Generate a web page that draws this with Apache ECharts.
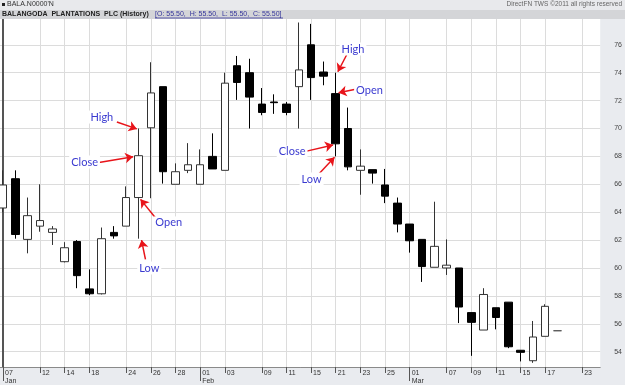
<!DOCTYPE html>
<html><head><meta charset="utf-8">
<script src="https://cdn.jsdelivr.net/npm/echarts@6/dist/echarts.min.js"></script>
<style>html,body{margin:0;padding:0;background:#e9ebef;}#c{width:625px;height:385px;}</style>
</head><body><div id="c"></div>
<script>
// Trading days (index = category position); last two are future days with no data
const dates = ['07 Jan','10 Jan','11 Jan','12 Jan','13 Jan','14 Jan','17 Jan','18 Jan','20 Jan','21 Jan',
  '24 Jan','25 Jan','26 Jan','27 Jan','28 Jan','31 Jan','01 Feb','02 Feb','03 Feb','07 Feb',
  '08 Feb','09 Feb','10 Feb','11 Feb','14 Feb','15 Feb','16 Feb','21 Feb','22 Feb','23 Feb',
  '24 Feb','25 Feb','28 Feb','01 Mar','02 Mar','04 Mar','07 Mar','08 Mar','09 Mar','10 Mar',
  '11 Mar','14 Mar','15 Mar','16 Mar','17 Mar','18 Mar','22 Mar','23 Mar'];
const openP  = [64.3,66.4,62.05,63.0,62.55,60.45,61.9,58.5,58.15,62.55,63.0,65.05,70.05,73.0,66.0,67.0,66.0,68.0,67.0,74.5,
  74.0,71.75,71.9,71.75,73.0,76.0,74.05,72.5,70.0,67.0,67.05,65.95,64.65,63.15,62.05,60.05,60.0,60.0,56.8,55.55,
  57.15,57.55,54.1,53.35,55.1,55.5];
const closeP = [65.95,62.4,63.75,63.4,62.8,61.45,59.45,58.15,62.1,62.3,65.05,68.05,72.55,66.9,66.9,67.4,67.4,67.1,73.25,73.3,
  72.25,71.15,71.85,71.15,74.2,73.65,73.75,68.9,67.25,67.3,66.8,65.15,63.15,61.95,60.1,61.55,60.2,57.2,56.1,58.1,
  56.45,54.35,53.95,55.05,57.25,55.5];
const lowP   = [64.0,62.1,61.05,62.6,61.65,60.4,58.55,58.05,58.1,62.1,63.0,62.1,65.0,66.05,66.0,66.8,66.0,67.1,67.0,72.05,
  70.0,70.95,71.05,70.95,70.0,72.05,73.1,68.0,67.0,65.25,66.05,64.65,62.55,61.1,59.0,60.05,59.5,56.05,53.7,55.55,
  55.6,54.25,53.3,53.2,55.1,55.5];
const highP  = [67.0,67.0,65.05,66.0,63.0,61.85,62.0,59.9,62.9,63.0,65.85,70.0,74.75,73.0,67.5,68.95,68.5,69.65,74.0,75.2,
  75.0,72.9,72.45,71.9,77.6,77.5,74.8,74.0,71.5,68.5,67.05,67.1,65.05,63.15,62.05,64.75,62.05,60.0,56.8,58.55,
  57.15,57.55,54.1,56.2,57.4,55.5];
const xTickDates = ['07 Jan','12 Jan','14 Jan','18 Jan','24 Jan','26 Jan','28 Jan','01 Feb','03 Feb','09 Feb','11 Feb',
  '15 Feb','21 Feb','23 Feb','25 Feb','01 Mar','07 Mar','09 Mar','11 Mar','15 Mar','17 Mar','23 Mar'];
const yTicks = [54,56,58,60,62,64,66,68,70,72,74,76];
const annotationTexts = ['High','Close','Open','Low','High','Open','Close','Low'];

// annotation layout (data coordinates: [index, price])
const annLayout = [
  {label:[8.02,70.82], from:[9.24,70.47], to:[10.86,69.97]},
  {label:[6.62,67.6],  from:[7.67,67.55], to:[10.56,67.98]},
  {label:[13.45,63.23],from:[12.4,63.56], to:[11.16,64.92]},
  {label:[11.87,60.0], from:[11.56,60.62],to:[11.24,62.0]},
  {label:[28.4,75.7],  from:[27.88,75.27],to:[27.17,74.07]},
  {label:[29.74,72.76],from:[28.61,72.81],to:[27.23,72.57]},
  {label:[23.46,68.32],from:[24.47,68.34],to:[26.78,68.82]},
  {label:[25.04,66.38],from:[25.55,66.67],to:[26.9,67.94]}
];

const xTickIdx = xTickDates.map(d => dates.indexOf(d));
const monthIdx = xTickIdx.filter(i => i === 0 || dates[i].slice(0,2) === '01');
const candles = openP.map((o,i) => [i, o, closeP[i], lowP[i], highP[i]]);

const chart = echarts.init(document.getElementById('c'), null, {renderer:'canvas'});
const FONT = '"Liberation Sans", Arial, sans-serif';
chart.setOption({
  animation: false,
  backgroundColor: '#e9ebef',
  grid: {left:0, top:19, right:24, bottom:18, show:true, backgroundColor:'#fff', borderWidth:0},
  xAxis: [{
    type:'value', min:-0.243, max:48.46,
    axisLine:{show:true, onZero:false, lineStyle:{color:'#8a8a8a', width:1}},
    axisTick:{show:true, length:6, customValues:xTickIdx, lineStyle:{color:'#555'}},
    axisLabel:{customValues:xTickIdx, align:'left', margin:2, padding:[0,0,0,2],
      fontFamily:FONT, fontSize:7, color:'#333', lineHeight:8,
      formatter: v => { const i = Math.round(v); const d = dates[i];
        return (i === 0 || d.slice(0,2) === '01') ? d.slice(0,2) + '\n' + d.slice(3) : d.slice(0,2); }},
    splitLine:{show:true, lineStyle:{color:'#dcdcdc', width:1}}
  },{
    type:'value', min:-0.243, max:48.46, position:'bottom',
    axisLine:{show:false}, axisLabel:{show:false}, splitLine:{show:false},
    axisTick:{show:true, length:14, customValues:monthIdx, lineStyle:{color:'#555'}}
  }],
  yAxis: {
    type:'value', position:'right', min:52.9, max:77.85,
    axisLine:{show:true, lineStyle:{color:'#555', width:2}},
    axisTick:{show:false, customValues:yTicks},
    axisLabel:{customValues:yTicks, margin:14, fontFamily:FONT, fontSize:7, color:'#444'},
    splitLine:{show:true, lineStyle:{color:'#dcdcdc', width:1}}
  },
  series: [{
    type:'candlestick', data:candles, barWidth:8,
    itemStyle:{color:'#fff', color0:'#000', borderColor:'#333', borderColor0:'#000', borderColorDoji:'#555', borderWidth:1},
    markPoint:{
      symbol:'rect', symbolSize:1, itemStyle:{color:'rgba(0,0,0,0)'}, silent:true,
      label:{show:true, position:'inside', formatter:p => p.name, color:'#3a3ad0',
        fontFamily:'Lato, "Open Sans", sans-serif', fontSize:11, backgroundColor:'#fff', padding:[1,2]},
      data: annLayout.map((a,k) => ({name:annotationTexts[k], coord:a.label}))
    },
    markLine:{
      silent:true, symbol:['none','arrow'], symbolSize:8,
      lineStyle:{color:'#e8141a', width:1.5, type:'solid'}, label:{show:false},
      data: annLayout.map(a => [{coord:a.from}, {coord:a.to}])
    }
  }],
  graphic: [
    {type:'rect', left:0, top:0, shape:{width:625, height:10}, style:{fill:'#e8e9ec'}, z:10},
    {type:'rect', left:0, top:10, shape:{width:625, height:9}, style:{fill:'#d4d5d8'}, z:10},
    {type:'rect', left:2, top:3, shape:{width:3, height:3}, style:{fill:'#222'}, z:11},
    {type:'text', left:7, top:1, style:{text:"BALA.N0000'N", font:'7px '+FONT, fill:'#333'}, z:11},
    {type:'text', left:2, top:10.5, style:{text:'BALANGODA  PLANTATIONS  PLC (History)', font:'bold 7px '+FONT, fill:'#222'}, z:11},
    {type:'text', left:155, top:10.5, style:{text:'[O: 55.50,  H: 55.50,  L: 55.50,  C: 55.50]', font:'7px '+FONT, fill:'#34349a'}, z:11},
    {type:'line', shape:{x1:155, y1:18, x2:283, y2:18}, style:{stroke:'#34349a', lineWidth:0.8}, z:11},
    {type:'text', right:3, top:1, style:{text:'DirectFN TWS \u00a92011 all rights reserved', font:'6.5px '+FONT, fill:'#666'}, z:11}
  ]
});
</script></body></html>
